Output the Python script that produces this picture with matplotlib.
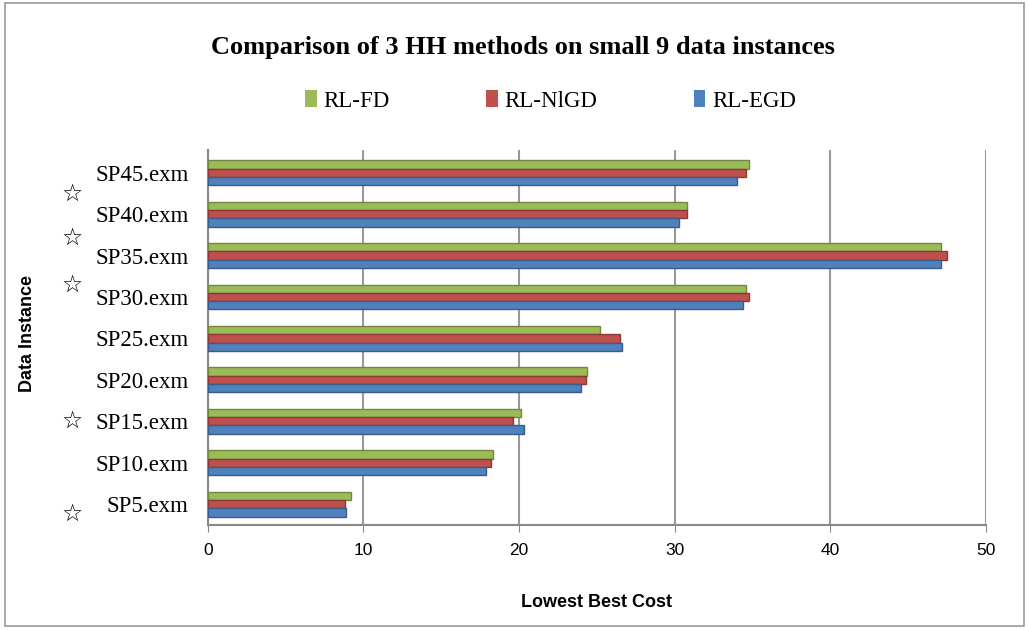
import numpy as np
import matplotlib.pyplot as plt
from matplotlib.patches import Rectangle, Patch
from matplotlib.transforms import blended_transform_factory

# Datos: costo mas bajo encontrado por cada metodo en cada instancia
instancias = ['SP5.exm', 'SP10.exm', 'SP15.exm', 'SP20.exm', 'SP25.exm',
              'SP30.exm', 'SP35.exm', 'SP40.exm', 'SP45.exm']
rl_fd = [9.2, 18.3, 20.1, 24.4, 25.2, 34.6, 47.1, 30.8, 34.8]
rl_nlgd = [8.8, 18.2, 19.6, 24.3, 26.5, 34.8, 47.5, 30.8, 34.6]
rl_egd = [8.9, 17.9, 20.3, 24.0, 26.6, 34.4, 47.1, 30.3, 34.0]

# Instancias marcadas con estrella (posicion vertical en unidades de categoria)
estrellas_y = [7.5, 6.42, 5.3, 2.02, -0.24]
estrellas_x = [-0.175, -0.175, -0.175, -0.175, -0.175]

serif = 'Liberation Serif'
sans = 'Liberation Sans'

fig = plt.figure(figsize=(10.29, 6.3), dpi=100)
ax = fig.add_axes([0.202, 0.167, 0.756, 0.595])

y = np.arange(len(instancias))
h = 0.2
series = [(rl_fd, '#9BBB59', '#71893F', 'RL-FD', h),
          (rl_nlgd, '#C0504D', '#8C3836', 'RL-NlGD', 0),
          (rl_egd, '#4F81BD', '#385D8A', 'RL-EGD', -h)]
handles = []
for vals, col, borde, nombre, off in series:
    ax.barh(y + off, vals, height=h, color=col, edgecolor=borde, linewidth=1.0, zorder=3)
    handles.append(Patch(facecolor=col, edgecolor='none', label=nombre))

ax.set_xlim(0, 50)
ax.set_ylim(-0.5, 8.55)
ax.set_xticks([0, 10, 20, 30, 40, 50])
ax.set_yticks(y)
ax.set_yticklabels(instancias, fontfamily=serif, fontsize=16.5)
ax.tick_params(axis='y', length=0, pad=14)
ax.tick_params(axis='x', length=5, color='#888888', labelsize=12.5, pad=8)
for lbl in ax.get_xticklabels():
    lbl.set_fontfamily(sans)

ax.grid(axis='x', color='#999999', linewidth=1.5, zorder=0)
for lado in ['top', 'right']:
    ax.spines[lado].set_visible(False)
for lado in ['left', 'bottom']:
    ax.spines[lado].set_color('#888888')
    ax.spines[lado].set_linewidth(1.5)

ax.set_xlabel('Lowest Best Cost', fontfamily=sans, fontweight='bold', fontsize=13, labelpad=26)
fig.text(0.027, 0.47, 'Data Instance', rotation=90, ha='center', va='center',
         fontfamily=sans, fontweight='bold', fontsize=13)

# Estrellas al costado de los nombres de las instancias
trans = blended_transform_factory(ax.transAxes, ax.transData)
for sx, sy in zip(estrellas_x, estrellas_y):
    ax.text(sx, sy, '\u2606', transform=trans, ha='center', va='center',
            fontsize=17, fontfamily='DejaVu Sans', clip_on=False)

fig.text(0.508, 0.925, 'Comparison of 3 HH methods on small 9 data instances',
         ha='center', va='center', fontfamily=serif, fontweight='bold', fontsize=19)

fig.legend(handles=handles, loc='center', bbox_to_anchor=(0.535, 0.84), ncol=3,
           frameon=False, prop={'family': serif, 'size': 16.5}, handlelength=0.5,
           handleheight=0.8, handletextpad=0.3, columnspacing=4.2)

# Marco exterior del grafico
fig.patches.append(Rectangle((0.005, 0.006), 0.99, 0.99, transform=fig.transFigure,
                             fill=False, edgecolor='#999999', linewidth=1.2))

fig.savefig('out.png', dpi=100)
